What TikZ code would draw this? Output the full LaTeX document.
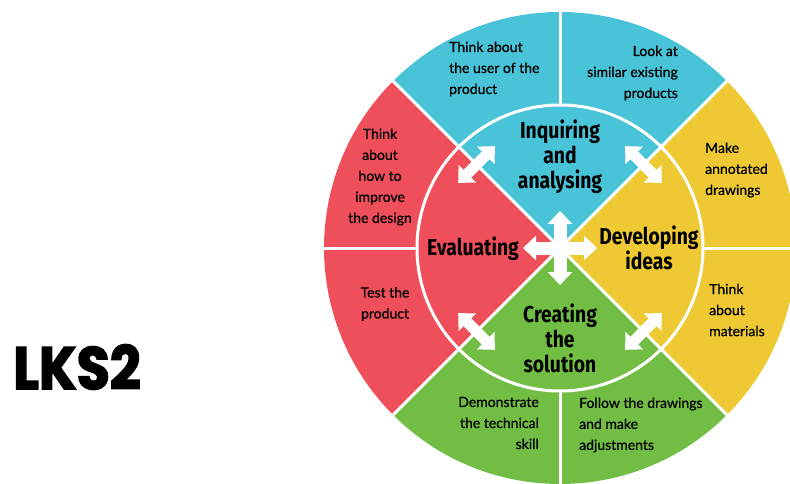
\documentclass[tikz,border=0pt]{standalone}
\usepackage{fontspec}
\usetikzlibrary{arrows.meta,calc}
\newfontfamily\labelfont{Lato}[FakeBold=0.7]
\newfontfamily\titlefont{Fira Sans}[FakeStretch=0.84]
\newfontfamily\lksfont{Poppins}[FakeStretch=0.9,FakeBold=2.5]
\definecolor{inqblue}{HTML}{49C3D8}
\definecolor{devyellow}{HTML}{EEC933}
\definecolor{cregreen}{HTML}{72BE45}
\definecolor{evared}{HTML}{EE4F5B}
\tikzset{
  stage/.style={font=\titlefont\bfseries\fontsize{23}{25}\selectfont, align=center, inner sep=0pt},
  hint/.style={font=\labelfont\fontsize{14}{21}\selectfont, inner sep=0pt},
  sep/.style={white, line width=3pt},
  flow/.style={white, line width=11pt, {Triangle[length=13pt 0 0,width=24pt 0 0]}-{Triangle[length=13pt 0 0,width=24pt 0 0]}},
  spoke/.style={white, line width=13pt, -{Triangle[length=13pt 0 0,width=24pt 0 0]}}
}
\begin{document}
\begin{tikzpicture}[x=1pt,y=1pt]
  \useasboundingbox (0,0) rectangle (790,483);
  % Coordinates
  \coordinate (C) at (560,235);
  % Sectors
  \fill[inqblue] (C) -- ++(45:236) arc (45:135:236) -- cycle;
  \fill[evared] (C) -- ++(135:236) arc (135:225:236) -- cycle;
  \fill[cregreen] (C) -- ++(225:236) arc (225:315:236) -- cycle;
  \fill[devyellow] (C) -- ++(315:236) arc (315:405:236) -- cycle;
  % White dividers
  \foreach \a in {45,135,225,315} {
      \draw[sep] (C) -- ++(\a:236);
    }
  \foreach \a in {0,90,180,270} {
      \draw[sep] ($(C)+(\a:143)$) -- ($(C)+(\a:236)$);
    }
  \draw[sep] (C) circle (143);
  % Arrows between stages
  \foreach \a in {45,135,225,315} {
      \coordinate (f\a a) at ($(C)+(\a:118)+({\a+90}:26)$);
      \coordinate (f\a b) at ($(C)+(\a:118)+({\a-90}:26)$);
      \draw[flow] (f\a a) -- (f\a b);
    }
  % Centre cross
  \foreach \a/\n in {0/r,90/u,180/l,270/d} {
      \coordinate (x\n) at ($(C)+(\a:37)$);
      \draw[spoke] (C) -- (x\n);
    }
  % Stages
  \node[stage] (inq) at (560,326) {Inquiring\\and\\analysing};
  \node[stage] (dev) at (649,235) {Developing\\ideas};
  \node[stage] (eva) at (473,234) {Evaluating};
  \node[stage] (cre) at (560,145) {Creating\\the\\solution};
  % Outer hints
  \node[hint, align=left, anchor=west] (user) at (449,414) {Think about\\the user of the\\product};
  \node[hint, align=right, anchor=east] (look) at (678,410) {Look at\\similar existing\\products};
  \node[hint, align=left, anchor=west] (draw) at (705,313) {Make\\annotated\\drawings};
  \node[hint, align=left, anchor=west] (mat) at (709,173) {Think\\about\\materials};
  \node[hint, align=left, anchor=west] (follow) at (579,58) {Follow the drawings\\and make\\adjustments};
  \node[hint, align=right, anchor=east] (demo) at (539,60) {Demonstrate\\the technical\\skill};
  \node[hint, align=center] (test) at (385,179) {Test the\\product};
  \node[hint, align=center] (improve) at (380,306) {Think\\about\\how to\\improve\\the design};
  % Key stage
  \node[font=\lksfont\bfseries\fontsize{60}{60}\selectfont, inner sep=0pt] (lks) at (77,116) {LKS2};
\end{tikzpicture}
\end{document}
